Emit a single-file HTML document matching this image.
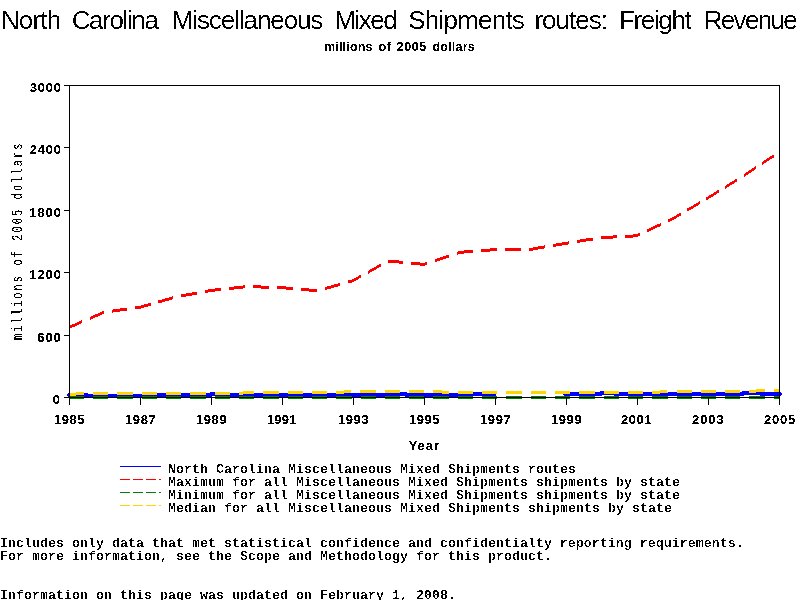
<!DOCTYPE html>
<html lang="en">
<head>
<meta charset="utf-8">
<title>North Carolina Miscellaneous Mixed Shipments routes: Freight Revenue</title>
<style>
html,body{margin:0;padding:0;background:#fff;width:800px;height:600px;overflow:hidden}
svg{display:block;position:absolute;left:0;top:0}
text{fill:#000;white-space:pre}
.ttl{font:26px "Liberation Sans",Arial,Helvetica,sans-serif}
.sub{font:bold 12.5px "Liberation Sans",Arial,Helvetica,sans-serif}
.tk{font:bold 13px "Liberation Sans",Arial,Helvetica,sans-serif}
.yl{font:13.8px "Liberation Mono","DejaVu Sans Mono",monospace}
.mono{font:bold 13.333px "Liberation Mono","DejaVu Sans Mono",monospace}
</style>
</head>
<body>
<svg width="800" height="600" viewBox="0 0 800 600">
<defs>
<filter id="px-ttl" filterUnits="userSpaceOnUse" x="0" y="0" width="800" height="600" color-interpolation-filters="sRGB"><feComponentTransfer><feFuncA type="discrete" tableValues="0 0 0 0 0 0 0 0 0 0 0 0 0 0 0 0 0 0 0 0 0 0 1 1 1 1 1 1 1 1 1 1 1 1 1 1 1 1 1 1"/></feComponentTransfer></filter>
<filter id="px-sub" filterUnits="userSpaceOnUse" x="0" y="0" width="800" height="600" color-interpolation-filters="sRGB"><feComponentTransfer><feFuncA type="discrete" tableValues="0 0 0 0 0 0 0 0 0 0 0 0 0 0 0 0 0 0 1 1 1 1 1 1 1 1 1 1 1 1 1 1 1 1 1 1 1 1 1 1"/></feComponentTransfer></filter>
<filter id="px-tk" filterUnits="userSpaceOnUse" x="0" y="0" width="800" height="600" color-interpolation-filters="sRGB"><feComponentTransfer><feFuncA type="discrete" tableValues="0 0 0 0 0 0 0 0 0 0 0 0 0 0 0 0 0 0 1 1 1 1 1 1 1 1 1 1 1 1 1 1 1 1 1 1 1 1 1 1"/></feComponentTransfer></filter>
<filter id="px-yl" filterUnits="userSpaceOnUse" x="0" y="0" width="800" height="600" color-interpolation-filters="sRGB"><feComponentTransfer><feFuncA type="discrete" tableValues="0 0 0 0 0 0 0 0 0 0 0 0 0 0 0 0 0 0 1 1 1 1 1 1 1 1 1 1 1 1 1 1 1 1 1 1 1 1 1 1"/></feComponentTransfer></filter>
<filter id="px-mono" filterUnits="userSpaceOnUse" x="0" y="0" width="800" height="600" color-interpolation-filters="sRGB"><feComponentTransfer><feFuncA type="discrete" tableValues="0 0 0 0 0 0 0 0 0 0 0 0 0 0 0 0 0 0 0 0 0 0 0 0 1 1 1 1 1 1 1 1 1 1 1 1 1 1 1 1"/></feComponentTransfer></filter>
</defs>
<rect width="800" height="600" fill="#fff"/>
<g shape-rendering="crispEdges">
<path d="M69.3 395 H86.5 L87.5 396 H149.5 L150.5 395 H210.5 L211.5 394 H219.5 L220.5 395 H389.5 L390.5 394 H405.5 L406.5 395 H465.5 L466.5 394 H494.6" stroke="#0000ff" stroke-width="4" stroke-linecap="round" stroke-linejoin="round" fill="none"/>
<path d="M565.3 394 H600.5 L601.5 393 H614.5 L615.5 394 H742.5 L743.5 393 H760.5 L761.5 394 H779.7" stroke="#0000ff" stroke-width="4" stroke-linecap="round" stroke-linejoin="round" fill="none"/>
<path d="M68.8 326.0 L82.4 320.1 L82.4 323.1 L68.8 329.0Z M89.5 317.1 L103.5 311.0 L103.5 314.0 L89.5 320.1Z M111.5 309.7 L127.3 307.6 L127.3 310.6 L111.5 312.7Z M135.4 306.5 L139.8 305.9 L150.6 302.7 L150.6 305.7 L139.8 308.9 L135.4 309.5Z M158.3 300.5 L173.3 296.1 L173.3 299.1 L158.3 303.5Z M181.1 294.4 L196.8 291.6 L196.8 294.6 L181.1 297.4Z M204.8 290.1 L210.8 289.0 L220.6 287.9 L220.6 290.9 L210.8 292.0 L204.8 293.1Z M228.7 287.1 L244.6 285.3 L244.6 288.3 L228.7 290.1Z M252.8 285.3 L268.9 285.7 L268.9 288.7 L252.8 288.3Z M277.1 285.9 L281.8 286.1 L293.1 287.1 L293.1 290.1 L281.8 289.1 L277.1 288.9Z M301.3 287.8 L317.3 289.2 L317.3 292.2 L301.3 290.8Z M325.0 287.1 L340.0 282.8 L340.0 285.8 L325.0 290.1Z M347.7 280.6 L352.8 279.2 L361.4 274.4 L361.4 277.4 L352.8 282.2 L347.7 283.6Z M368.0 270.8 L380.9 263.6 L380.9 266.6 L368.0 273.8Z M387.5 259.9 L388.3 259.5 L403.3 260.9 L403.3 263.9 L388.3 262.5 L387.5 262.9Z M411.4 261.7 L423.8 262.9 L427.1 261.8 L427.1 264.8 L423.8 265.9 L411.4 264.7Z M434.6 259.2 L449.3 254.3 L449.3 257.3 L434.6 262.2Z M456.8 251.8 L459.3 250.9 L472.5 249.9 L472.5 252.9 L459.3 253.9 L456.8 254.8Z M480.7 249.2 L494.8 248.1 L496.7 248.1 L496.7 251.1 L494.8 251.1 L480.7 252.2Z M504.9 248.0 L521.0 248.0 L521.0 251.0 L504.9 251.0Z M529.3 247.9 L530.3 247.9 L545.0 245.4 L545.0 248.4 L530.3 250.9 L529.3 250.9Z M553.0 244.1 L565.8 241.9 L568.7 241.4 L568.7 244.4 L565.8 244.9 L553.0 247.1Z M576.7 240.1 L592.5 237.5 L592.5 240.5 L576.7 243.1Z M600.5 236.2 L601.3 236.1 L616.5 235.3 L616.5 238.3 L601.3 239.1 L600.5 239.2Z M624.7 234.9 L636.8 234.3 L640.2 232.7 L640.2 235.7 L636.8 237.3 L624.7 237.9Z M647.1 229.4 L660.7 223.0 L660.7 226.0 L647.1 232.4Z M667.7 219.7 L672.3 217.5 L680.6 212.6 L680.6 215.6 L672.3 220.5 L667.7 222.7Z M687.1 208.7 L699.7 201.3 L699.7 204.3 L687.1 211.7Z M706.2 197.5 L707.8 196.5 L718.6 189.8 L718.6 192.8 L707.8 199.5 L706.2 200.5Z M725.0 185.9 L737.4 178.2 L737.4 181.2 L725.0 188.9Z M743.7 174.2 L755.8 166.3 L755.8 169.3 L743.7 177.2Z M761.9 162.2 L774.0 154.2 L774.0 157.2 L761.9 165.2Z" fill="#ff0000"/>
<polyline points="68.8,397.5 104.3,397.5 139.8,397.5 175.3,397.5 210.8,397.5 246.3,397.5 281.8,397.5 317.3,397.5 352.8,397.5 388.3,397.5 423.8,397.5 459.3,397.5 494.8,397.5 530.3,397.5 565.8,397.5 601.3,397.5 636.8,397.5 672.3,397.5 707.8,397.5 743.3,397.5 778.8,397.5" stroke="#008000" stroke-width="3" fill="none" stroke-dasharray="15.3 9.01"/>
<polyline points="68.8,394.2 104.3,393.2 139.8,393.3 175.3,393.3 210.8,393.3 246.3,392.97 281.8,392.7 317.3,392.6 352.8,391.8 388.3,391.6 423.8,391.7 459.3,392.3 494.8,392.4 530.3,392.4 565.8,392.4 601.3,392.4 636.8,392.3 672.3,391.85 707.8,391.6 743.3,391.3 778.8,390.5" stroke="#ffd700" stroke-width="3" fill="none" stroke-dasharray="15.3 9.01"/>
<path d="M69.5 85 V405 M779.5 85 V405 M64 85.5 H780 M64 397.5 H780" stroke="#000" stroke-width="1" fill="none"/>
<path d="M64 147.5 H70 M64 210.5 H70 M64 272.5 H70 M64 335.5 H70 M140.5 397 V405 M211.5 397 V405 M282.5 397 V405 M353.5 397 V405 M424.5 397 V405 M495.5 397 V405 M566.5 397 V405 M637.5 397 V405 M708.5 397 V405 " stroke="#000" stroke-width="1" fill="none"/>
<path d="M120 466.5 H161" stroke="#0000ff" stroke-width="1"/>
<path d="M120 479.5 H161" stroke="#ff0000" stroke-width="1" stroke-dasharray="10 3"/>
<path d="M120 492.5 H161" stroke="#008000" stroke-width="1" stroke-dasharray="10 3"/>
<path d="M120 505.5 H161" stroke="#ffd700" stroke-width="1" stroke-dasharray="10 3"/>
</g>
<g filter="url(#px-ttl)">
<text class="ttl" y="29"><tspan x="0.92" style="letter-spacing:-0.82px">North </tspan><tspan x="71.70" style="letter-spacing:-1.38px">Carolina </tspan><tspan x="171.67" style="letter-spacing:-1.08px">Miscellaneous </tspan><tspan x="334.42" style="letter-spacing:-1.50px">Mixed </tspan><tspan x="408.20" style="letter-spacing:-0.77px">Shipments </tspan><tspan x="534.43" style="letter-spacing:-0.98px">routes: </tspan><tspan x="618.92" style="letter-spacing:-1.34px">Freight </tspan><tspan x="703.67" style="letter-spacing:-1.65px">Revenue</tspan></text>
</g>
<g filter="url(#px-sub)">
<text class="sub" y="51"><tspan x="323.93" style="letter-spacing:0.19px">millions </tspan><tspan x="378.50" style="letter-spacing:0.75px">of </tspan><tspan x="396.62" style="letter-spacing:0.62px">2005 </tspan><tspan x="432.50" style="letter-spacing:0.20px">dollars</tspan></text>
</g>
<g filter="url(#px-tk)">
<text class="tk" x="29.79" y="92" style="letter-spacing:0.72px">3000</text>
<text class="tk" x="29.66" y="154" style="letter-spacing:0.77px">2400</text>
<text class="tk" x="29.27" y="217" style="letter-spacing:0.90px">1800</text>
<text class="tk" x="29.27" y="279" style="letter-spacing:0.90px">1200</text>
<text class="tk" x="37.28" y="342" style="letter-spacing:0.91px">600</text>
<text class="tk" x="52.78" y="404" style="letter-spacing:0.00px">0</text>
<text class="tk" x="53.82" y="424" style="letter-spacing:0.61px">1985</text>
<text class="tk" x="124.82" y="424" style="letter-spacing:0.70px">1987</text>
<text class="tk" x="195.82" y="424" style="letter-spacing:0.65px">1989</text>
<text class="tk" x="266.82" y="424" style="letter-spacing:0.29px">1991</text>
<text class="tk" x="337.82" y="424" style="letter-spacing:0.65px">1993</text>
<text class="tk" x="408.82" y="424" style="letter-spacing:0.61px">1995</text>
<text class="tk" x="479.82" y="424" style="letter-spacing:0.70px">1997</text>
<text class="tk" x="550.82" y="424" style="letter-spacing:0.65px">1999</text>
<text class="tk" x="620.91" y="424" style="letter-spacing:0.60px">2001</text>
<text class="tk" x="692.11" y="424" style="letter-spacing:0.89px">2003</text>
<text class="tk" x="764.11" y="424" style="letter-spacing:0.76px">2005</text>
<text class="tk" x="408.74" y="450" style="letter-spacing:0.92px">Year</text>
</g>
<g filter="url(#px-yl)">
<text class="yl" transform="translate(22 241.75) rotate(-90) scale(0.75 1)" x="-131.10" y="0" style="letter-spacing:2.76px">millions of 2005 dollars</text>
</g>
<g filter="url(#px-mono)">
<text class="mono" x="168" y="473">North Carolina Miscellaneous Mixed Shipments routes</text>
<text class="mono" x="168" y="486">Maximum for all Miscellaneous Mixed Shipments shipments by state</text>
<text class="mono" x="168" y="499">Minimum for all Miscellaneous Mixed Shipments shipments by state</text>
<text class="mono" x="168" y="512">Median for all Miscellaneous Mixed Shipments shipments by state</text>
<text class="mono" x="0" y="547">Includes only data that met statistical confidence and confidentialty reporting requirements.</text>
<text class="mono" x="0" y="560">For more information, see the Scope and Methodology for this product.</text>
<text class="mono" x="0" y="599">Information on this page was updated on February 1, 2008.</text>
</g>
</svg>
</body>
</html>
